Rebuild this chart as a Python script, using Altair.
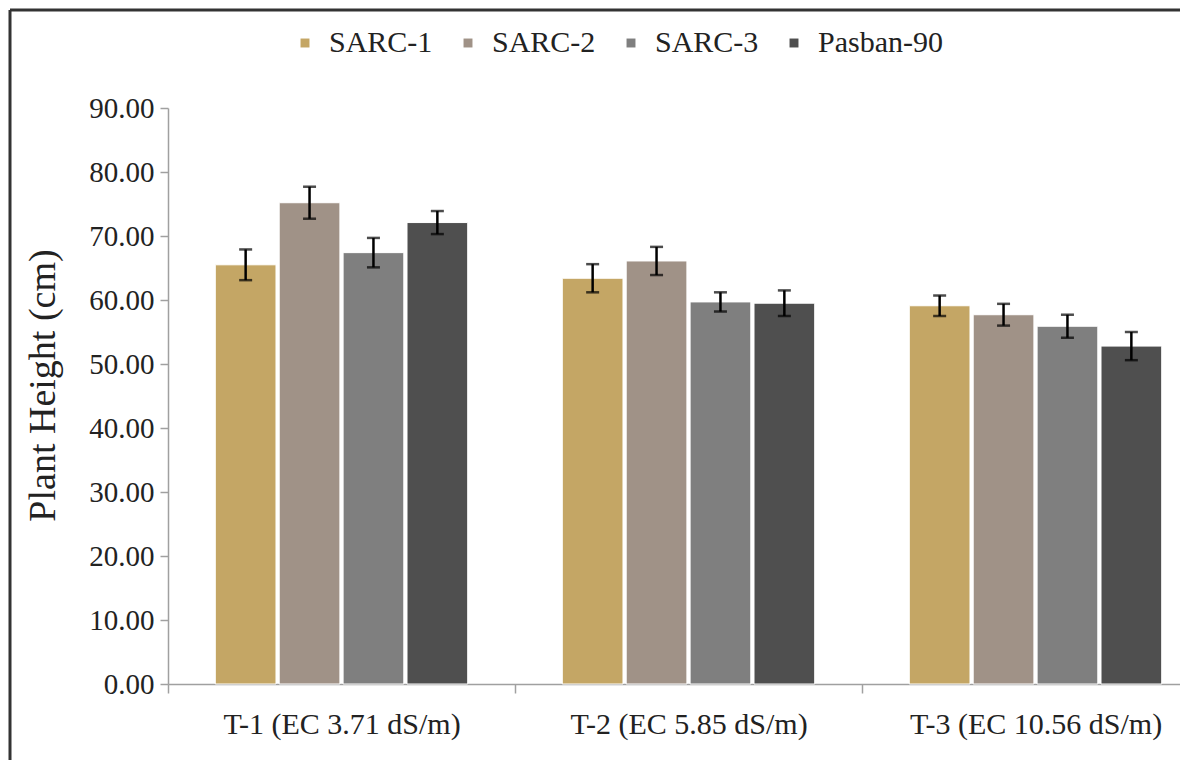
import altair as alt
import pandas as pd

treatments = ["T-1 (EC 3.71 dS/m)", "T-2 (EC 5.85 dS/m)", "T-3 (EC 10.56 dS/m)"]
varieties = ["SARC-1", "SARC-2", "SARC-3", "Pasban-90"]
means = {
    "T-1 (EC 3.71 dS/m)": [65.5, 75.2, 67.4, 72.1],
    "T-2 (EC 5.85 dS/m)": [63.4, 66.1, 59.7, 59.5],
    "T-3 (EC 10.56 dS/m)": [59.1, 57.7, 55.9, 52.8],
}
errors = {
    "T-1 (EC 3.71 dS/m)": [2.4, 2.5, 2.3, 1.8],
    "T-2 (EC 5.85 dS/m)": [2.2, 2.2, 1.5, 2.0],
    "T-3 (EC 10.56 dS/m)": [1.6, 1.7, 1.8, 2.2],
}
colors = ["#c4a665", "#a09287", "#7f7f7f", "#4f4f4f"]

rows = []
for t in treatments:
    for v, m, e in zip(varieties, means[t], errors[t]):
        rows.append({"treatment": t, "variety": v, "height": m,
                     "lo": m - e, "hi": m + e})
df = pd.DataFrame(rows)

FONT = "Liberation Serif"

x = alt.X("treatment:N", sort=treatments,
          scale=alt.Scale(range=[0, 1041], paddingInner=0, paddingOuter=0),
          axis=alt.Axis(title=None, labelAngle=0, labelFont=FONT, labelFontSize=30,
                        labelColor="#222222", labelPadding=16, labelLimit=0,
                        tickBand="extent",
                        tickSize=9, tickColor="#a0a0a0", domainColor="#a0a0a0",
                        domainWidth=1.5, tickWidth=1.5))
xo = alt.XOffset("variety:N", sort=varieties,
                 scale=alt.Scale(paddingInner=0.05, paddingOuter=0.74))

base = alt.Chart(df)

bars = base.mark_bar(stroke="white", strokeWidth=1).encode(
    x=x,
    xOffset=xo,
    y=alt.Y("height:Q",
            scale=alt.Scale(domain=[0, 90], nice=False),
            axis=alt.Axis(title="Plant Height (cm)", titleFont=FONT, titleFontSize=38,
                          titleFontWeight="normal", titleColor="#222222", titlePadding=26,
                          titleY=277,
                          values=list(range(0, 91, 10)), format=".2f",
                          labelFont=FONT, labelFontSize=29, labelColor="#222222",
                          labelPadding=6, tickSize=8, tickColor="#a0a0a0",
                          domainColor="#a0a0a0", domainWidth=1.5, tickWidth=1.5,
                          grid=False)),
    color=alt.Color("variety:N", sort=varieties,
                    scale=alt.Scale(domain=varieties, range=colors),
                    legend=alt.Legend(title=None, orient="none", legendX=122, legendY=-80,
                                      direction="horizontal", symbolType="square",
                                      symbolSize=80, symbolStrokeWidth=0,
                                      labelFont=FONT, labelFontSize=30,
                                      labelColor="#222222", columnPadding=20,
                                      labelOffset=9)),
)

err = base.mark_rule(color="black", strokeWidth=2.5).encode(
    x=x, xOffset=xo, y="lo:Q", y2="hi:Q")
cap_hi = base.mark_tick(color="black", thickness=2.5, size=13).encode(
    x=x, xOffset=xo, y="hi:Q")
cap_lo = base.mark_tick(color="black", thickness=2.5, size=13).encode(
    x=x, xOffset=xo, y="lo:Q")

frame_data = alt.Data(values=[{"k": 1}])
frame_top = alt.Chart(frame_data).mark_rule(color="#333333", strokeWidth=3).encode(
    x=alt.value(-158), x2=alt.value(1030), y=alt.value(-98), y2=alt.value(-98))
frame_left = alt.Chart(frame_data).mark_rule(color="#333333", strokeWidth=3).encode(
    x=alt.value(-158), x2=alt.value(-158), y=alt.value(-98), y2=alt.value(700))

chart = alt.layer(bars, err, cap_hi, cap_lo, frame_top, frame_left).properties(
    width=1007, height=576,
    autosize=alt.AutoSizeParams(type="none"),
    padding={"left": 160, "top": 100, "right": 5, "bottom": 76},
    background="white",
).configure(
    font=FONT,
    style={"guide-label": {"font": FONT}, "guide-title": {"font": FONT}},
).configure_view(stroke=None).configure_legend(labelFont=FONT)

chart.save("out.html", embed_options={"renderer": "svg", "actions": False})
